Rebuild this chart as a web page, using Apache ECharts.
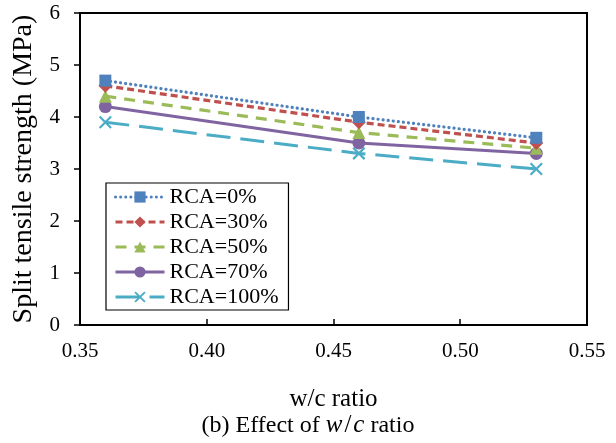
<!DOCTYPE html>
<html>
<head>
<meta charset="utf-8">
<script src="https://cdn.jsdelivr.net/npm/echarts@6/dist/echarts.min.js"></script>
<style>html,body{margin:0;padding:0;background:#fff}#c{width:616px;height:443px}</style>
</head>
<body>
<div id="c"></div>
<script>
var wcRatios = [0.36, 0.46, 0.53];
var rca0 = [4.7, 4.0, 3.6];
var rca30 = [4.6, 3.9, 3.5];
var rca50 = [4.4, 3.7, 3.4];
var rca70 = [4.2, 3.5, 3.3];
var rca100 = [3.9, 3.3, 3.0];
var seriesNames = ['RCA=0%', 'RCA=30%', 'RCA=50%', 'RCA=70%', 'RCA=100%'];
var xTicks = [0.35, 0.40, 0.45, 0.50, 0.55];
var yTicks = [0, 1, 2, 3, 4, 5, 6];

var FONT = '"Liberation Serif", "Times New Roman", serif';
var xSym = 'path://M0,1.2L1.2,0L5,3.8L8.8,0L10,1.2L6.2,5L10,8.8L8.8,10L5,6.2L1.2,10L0,8.8L3.8,5Z';

function pts(vals){ return wcRatios.map(function(x,i){ return [x, vals[i]]; }); }

var styles = [
  {color:'#4F81BD', symbol:'rect', size:12, type:[0.1,5], width:3.2, cap:'round'},
  {color:'#C0504D', symbol:'diamond', size:14, type:[7,4], width:3.2, cap:'butt'},
  {color:'#9BBB59', symbol:'triangle', size:13, type:[11,8], width:3.2, cap:'butt'},
  {color:'#8064A2', symbol:'circle', size:13, type:'solid', width:3, cap:'butt'},
  {color:'#4BACC6', symbol:xSym, size:13, type:[24,10], width:3, cap:'butt'}
];
var allVals = [rca0, rca30, rca50, rca70, rca100];

var chart = echarts.init(document.getElementById('c'), null, {renderer:'canvas'});
chart.setOption({
  animation: false,
  backgroundColor: '#fff',
  textStyle: {fontFamily: FONT},
  title: {
    text: '(b) Effect of {i|w}{s|/}{i|c} ratio',
    left: 'center',
    top: 408,
    textStyle: {
      fontFamily: FONT, fontSize: 24, fontWeight: 'normal', color: '#000',
      rich: {
        i: {fontFamily: FONT, fontStyle: 'italic', fontSize: 25, color: '#000'},
        s: {fontFamily: FONT, fontSize: 25, color: '#000', padding:[0,2,0,2]}
      }
    }
  },
  grid: {left: 80, right: 29, top: 13, bottom: 118, show: true, borderColor: '#000', borderWidth: 2, backgroundColor: 'transparent'},
  legend: {
    orient: 'vertical',
    left: 106, top: 183,
    padding: [3, 10, 2, 8],
    itemGap: 3,
    itemWidth: 49,
    itemHeight: 14,
    borderColor: '#000',
    borderWidth: 1.2,
    backgroundColor: '#fff',
    lineStyle: {width: 3},
    data: seriesNames,
    textStyle: {fontFamily: FONT, fontSize: 22, color: '#000', lineHeight: 22}
  },
  xAxis: {
    type: 'value', min: xTicks[0], max: xTicks[xTicks.length-1], interval: 0.05,
    name: 'w/c ratio', nameLocation: 'middle', nameGap: 62,
    nameTextStyle: {fontFamily: FONT, fontSize: 25, color: '#000'},
    axisLine: {show: true, lineStyle: {color: '#000', width: 2}},
    axisTick: {show: true, inside: true, length: 6, lineStyle: {color: '#000', width: 1.5}},
    splitLine: {show: false},
    axisLabel: {fontFamily: FONT, fontSize: 21, color: '#000', margin: 16,
      formatter: function(v){ return v.toFixed(2); }}
  },
  yAxis: {
    type: 'value', min: yTicks[0], max: yTicks[yTicks.length-1], interval: 1,
    name: 'Split tensile strength (MPa)', nameLocation: 'middle', nameGap: 42,
    nameTextStyle: {fontFamily: FONT, fontSize: 28, color: '#000'},
    axisLine: {show: true, lineStyle: {color: '#000', width: 2}},
    axisTick: {show: true, inside: false, length: 6, lineStyle: {color: '#000', width: 1.5}},
    splitLine: {show: false},
    axisLabel: {fontFamily: FONT, fontSize: 21, color: '#000', margin: 20}
  },
  series: styles.map(function(s, k){
    return {
      name: seriesNames[k],
      type: 'line',
      data: pts(allVals[k]),
      symbol: s.symbol,
      symbolSize: s.size,
      showAllSymbol: true,
      z: 10 - k,
      lineStyle: {color: s.color, width: s.width, type: s.type, cap: s.cap},
      itemStyle: {color: s.color, borderWidth: 0}
    };
  })
});
</script>
</body>
</html>
